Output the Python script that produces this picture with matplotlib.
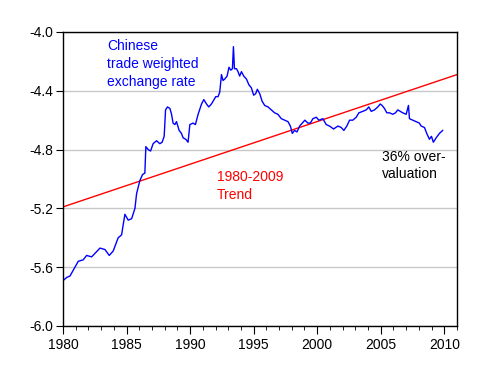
import numpy as np
import matplotlib.pyplot as plt
from matplotlib.ticker import MultipleLocator

plt.rcParams['font.family'] = ['Liberation Sans', 'DejaVu Sans']

# Chinese trade weighted exchange rate (log)
years = [1980.02, 1980.29, 1980.55, 1980.81, 1981.20, 1981.59, 1981.86, 1982.25,
         1982.91, 1983.30, 1983.64, 1983.95, 1984.34, 1984.61, 1984.87, 1985.13,
         1985.40, 1985.66, 1985.79, 1986.05, 1986.26, 1986.44, 1986.52, 1986.70,
         1986.89, 1987.09, 1987.36, 1987.62, 1987.80, 1987.96, 1988.07, 1988.22,
         1988.41, 1988.54, 1988.66, 1988.80, 1988.93, 1989.14, 1989.32, 1989.45,
         1989.66, 1989.84, 1989.98, 1990.24, 1990.42, 1990.63, 1990.90, 1991.08,
         1991.29, 1991.47, 1991.68, 1992.02, 1992.20, 1992.33, 1992.47, 1992.59,
         1992.73, 1992.91, 1993.06, 1993.20, 1993.33, 1993.41, 1993.49, 1993.65,
         1993.77, 1993.90, 1994.04, 1994.22, 1994.43, 1994.63, 1994.82, 1995.00,
         1995.16, 1995.29, 1995.48, 1995.66, 1995.87, 1996.13, 1996.39, 1996.65,
         1996.91, 1997.18, 1997.44, 1997.70, 1997.89, 1998.04, 1998.22, 1998.41,
         1998.62, 1998.83, 1999.03, 1999.27, 1999.46, 1999.66, 1999.93, 2000.13,
         2000.45, 2000.71, 2000.97, 2001.29, 2001.63, 2001.89, 2002.10, 2002.33,
         2002.55, 2002.80, 2003.07, 2003.28, 2003.59, 2003.86, 2004.06, 2004.25,
         2004.51, 2004.77, 2004.96, 2005.11, 2005.29, 2005.48, 2005.69, 2005.95,
         2006.16, 2006.34, 2006.53, 2006.73, 2007.00, 2007.18, 2007.26, 2007.52,
         2007.78, 2008.04, 2008.18, 2008.44, 2008.62, 2008.83, 2008.99, 2009.14,
         2009.36, 2009.62, 2009.87]
rate = [-5.69, -5.67, -5.66, -5.62, -5.56, -5.55, -5.52, -5.53,
        -5.47, -5.48, -5.52, -5.49, -5.40, -5.38, -5.24, -5.28,
        -5.27, -5.20, -5.10, -5.01, -4.97, -4.96, -4.78, -4.80,
        -4.81, -4.76, -4.74, -4.76, -4.75, -4.71, -4.53, -4.51,
        -4.52, -4.56, -4.62, -4.63, -4.61, -4.67, -4.69, -4.72,
        -4.73, -4.75, -4.63, -4.62, -4.63, -4.56, -4.49, -4.46,
        -4.49, -4.51, -4.49, -4.44, -4.44, -4.41, -4.29, -4.33,
        -4.32, -4.30, -4.24, -4.26, -4.25, -4.10, -4.25, -4.25,
        -4.27, -4.30, -4.27, -4.30, -4.32, -4.36, -4.38, -4.43,
        -4.42, -4.39, -4.42, -4.47, -4.50, -4.51, -4.53, -4.55,
        -4.56, -4.59, -4.60, -4.61, -4.64, -4.69, -4.67, -4.68,
        -4.64, -4.62, -4.60, -4.62, -4.62, -4.59, -4.58, -4.60,
        -4.59, -4.63, -4.64, -4.66, -4.64, -4.65, -4.67, -4.64,
        -4.60, -4.60, -4.58, -4.55, -4.54, -4.53, -4.51, -4.54,
        -4.53, -4.51, -4.49, -4.50, -4.52, -4.55, -4.55, -4.56,
        -4.55, -4.53, -4.54, -4.55, -4.56, -4.50, -4.59, -4.60,
        -4.61, -4.62, -4.64, -4.65, -4.69, -4.73, -4.71, -4.75,
        -4.72, -4.69, -4.67]

# 1980-2009 linear trend
trend_years = [1980.0, 2011.0]
trend_vals = [-5.19, -4.29]

fig = plt.figure(figsize=(5, 3.76), dpi=100)
ax = fig.add_axes([0.126, 0.133, 0.788, 0.782])

ax.plot(trend_years, trend_vals, color='red', linewidth=1.0)
ax.plot(years, rate, color='blue', linewidth=1.0)

ax.set_xlim(1980, 2011)
ax.set_ylim(-6.0, -4.0)
ax.xaxis.set_major_locator(MultipleLocator(5))
ax.xaxis.set_minor_locator(MultipleLocator(1))
ax.yaxis.set_major_locator(MultipleLocator(0.4))
ax.yaxis.set_major_formatter(plt.FormatStrFormatter('%.1f'))

ax.grid(axis='y', color='#c8c8c8', linewidth=1.0)
ax.set_axisbelow(True)

ax.tick_params(axis='x', which='major', direction='out', length=6, labelsize=10, pad=3)
ax.tick_params(axis='x', which='minor', direction='out', length=3)
ax.tick_params(axis='y', which='major', direction='out', length=5, labelsize=10, pad=2)
for s in ax.spines.values():
    s.set_linewidth(1.0)

ax.text(1983.5, -4.05, 'Chinese\ntrade weighted\nexchange rate', color='blue',
        fontsize=10, va='top', ha='left', linespacing=1.35)
ax.text(1992.1, -4.94, '1980-2009\nTrend', color='red',
        fontsize=10, va='top', ha='left', linespacing=1.35)
ax.text(2005.1, -4.80, '36% over-\nvaluation', color='black',
        fontsize=10, va='top', ha='left', linespacing=1.35)

fig.savefig('out.png', dpi=100)
